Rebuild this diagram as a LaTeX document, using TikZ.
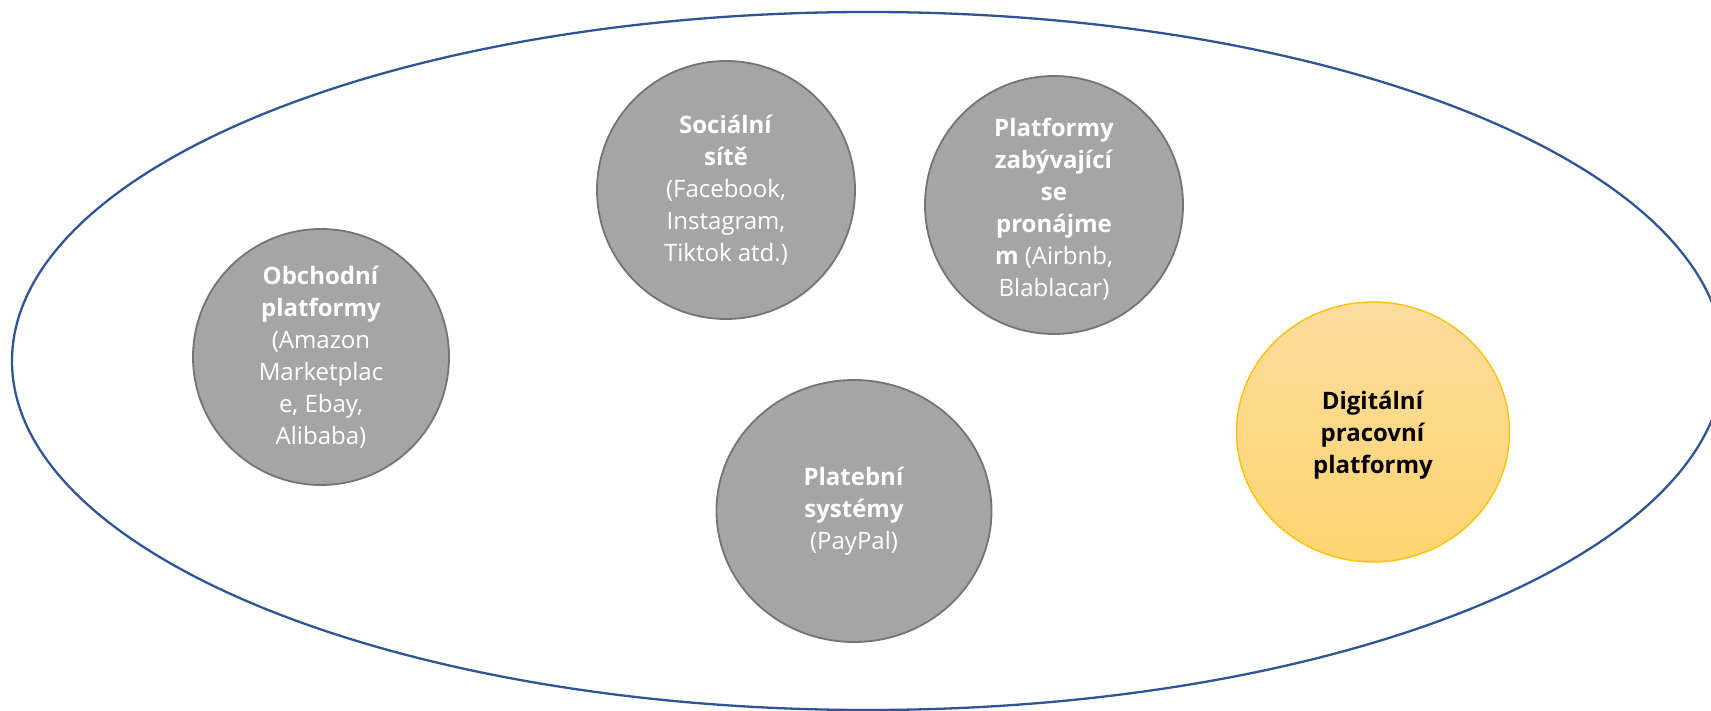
\documentclass[tikz,border=0pt]{standalone}
\usepackage{fontspec}
\setmainfont{Open Sans}
\usetikzlibrary{shapes.geometric}
\definecolor{ringblue}{HTML}{2F5597}
\definecolor{discgrey}{HTML}{A5A5A5}
\definecolor{discedge}{HTML}{747474}
\definecolor{goldedge}{HTML}{FFC000}
\definecolor{goldtop}{RGB}{252,220,156}
\definecolor{goldbot}{RGB}{255,212,112}
\tikzset{
  x=1pt, y=-1pt,
  disc/.style={ellipse, inner sep=0pt, line width=1.8pt},
  greydisc/.style={disc, fill=discgrey, draw=discedge},
  golddisc/.style={disc, draw=goldedge, line width=1.3pt, top color=goldtop, bottom color=goldbot},
  lbl/.style={align=center, inner sep=0pt, font=\fontsize{24}{32}\selectfont},
  lblw/.style={lbl, text=white},
  lblk/.style={lbl, text=black}
}
\begin{document}
\begin{tikzpicture}
  \useasboundingbox (0,0) rectangle (1711,711);
  \clip (0,0) rectangle (1711,711);
  \fill[white] (0,0) rectangle (1711,711);

  % outer ring
  \node[ellipse, draw=ringblue, line width=2.3pt, inner sep=0pt,
        minimum width=1712, minimum height=698] (ring) at (868,361) {};

  % grey discs
  \node[greydisc, minimum width=256, minimum height=256] (obch) at (321,357) {};
  \node[lblw] (obchT) at (obch.center) {\textbf{Obchodní}\\\textbf{platformy}\\(Amazon\\Marketplac\\e, Ebay,\\Alibaba)};

  \node[greydisc, minimum width=258, minimum height=258] (soc) at (726,190) {};
  \node[lblw] (socT) at (soc.center) {\textbf{Sociální}\\\textbf{sítě}\\(Facebook,\\Instagram,\\Tiktok atd.)};

  \node[greydisc, minimum width=258, minimum height=258] (pron) at (1054,205) {};
  \node[lblw] (pronT) at ([yshift=-4pt]pron.center) {\textbf{Platformy}\\\textbf{zabývající}\\\textbf{se}\\\textbf{pronájme}\\\textbf{m} (Airbnb,\\Blablacar)};

  \node[greydisc, minimum width=275, minimum height=262] (plat) at (854,511) {};
  \node[lblw] (platT) at (plat.center) {\textbf{Platební}\\\textbf{systémy}\\(PayPal)};

  % highlighted disc
  \node[golddisc, minimum width=273, minimum height=260] (dig) at (1373,432) {};
  \node[lblk] (digT) at ([yshift=-3pt]dig.center) {\textbf{Digitální}\\\textbf{pracovní}\\\textbf{platformy}};
\end{tikzpicture}
\end{document}
